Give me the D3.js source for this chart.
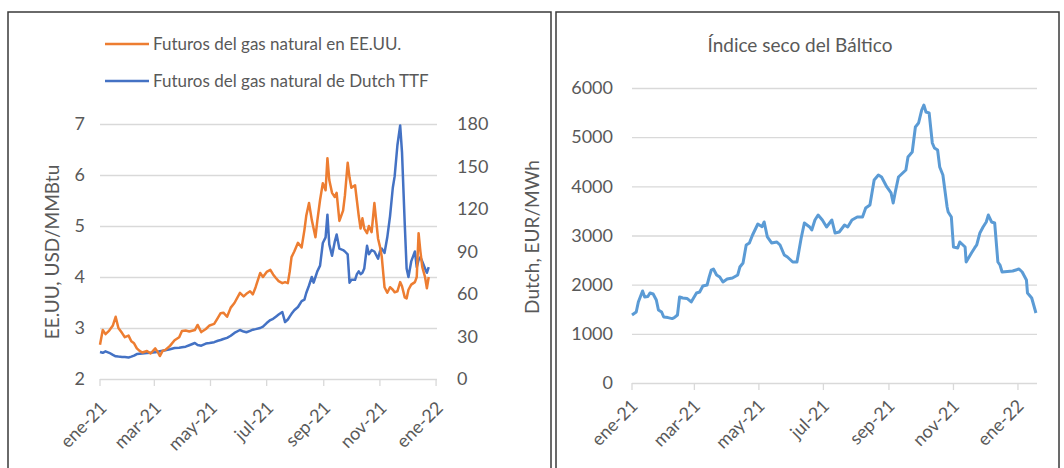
<!DOCTYPE html>
<html>
<head>
<meta charset="utf-8">
<script src="https://cdn.jsdelivr.net/npm/d3@7"></script>
<style>
  body { margin: 0; background: #fff; }
  svg { font-family: Lato, "Open Sans", sans-serif; }
  .grid line { stroke: #d9d9d9; stroke-width: 1.3; }
  .grid path { display: none; }
  .lbl { fill: #595959; font-size: 18px; }
</style>
</head>
<body>
<svg id="chart" width="1064" height="468"></svg>
<script>
// --- gas futures (left panel) ---
var gasDates = ["2021-01-01","2021-01-04","2021-01-07","2021-01-11","2021-01-15","2021-01-18","2021-01-21","2021-01-25","2021-01-28","2021-02-01",
  "2021-02-04","2021-02-07","2021-02-10","2021-02-13","2021-02-16","2021-02-21","2021-02-25","2021-03-02","2021-03-05","2021-03-07",
  "2021-03-10","2021-03-13","2021-03-18","2021-03-23","2021-03-28","2021-03-31","2021-04-04","2021-04-08","2021-04-14","2021-04-17",
  "2021-04-21","2021-04-26","2021-04-30","2021-05-05","2021-05-09","2021-05-12","2021-05-15","2021-05-19","2021-05-23","2021-05-27",
  "2021-06-02","2021-06-06","2021-06-09","2021-06-13","2021-06-16","2021-06-19","2021-06-24","2021-06-27","2021-07-01","2021-07-05",
  "2021-07-08","2021-07-11","2021-07-14","2021-07-18","2021-07-21","2021-07-24","2021-07-26","2021-07-28","2021-07-31","2021-08-04",
  "2021-08-08","2021-08-11","2021-08-13","2021-08-16","2021-08-19","2021-08-21","2021-08-23","2021-08-25","2021-08-28","2021-08-31",
  "2021-09-03","2021-09-05","2021-09-07","2021-09-10","2021-09-13","2021-09-15","2021-09-18","2021-09-22","2021-09-24","2021-09-27",
  "2021-09-29","2021-10-01","2021-10-05","2021-10-07","2021-10-09","2021-10-11","2021-10-13","2021-10-15","2021-10-18","2021-10-20",
  "2021-10-23","2021-10-26","2021-10-30","2021-11-01","2021-11-03","2021-11-06","2021-11-09","2021-11-12","2021-11-15","2021-11-17",
  "2021-11-20","2021-11-23","2021-11-25","2021-11-28","2021-11-30","2021-12-02","2021-12-05","2021-12-09","2021-12-11","2021-12-13",
  "2021-12-15","2021-12-17","2021-12-20","2021-12-22","2021-12-24"];

var usGas = [2.67,2.96,2.88,2.95,3.05,3.22,3.0,2.9,2.82,2.85,
  2.74,2.7,2.6,2.55,2.52,2.55,2.5,2.6,2.52,2.45,
  2.55,2.57,2.65,2.76,2.82,2.94,2.95,2.93,2.96,3.06,
  2.92,2.98,3.05,3.08,3.2,3.29,3.3,3.22,3.4,3.49,
  3.69,3.62,3.67,3.72,3.66,3.8,4.08,4.0,4.1,4.14,
  4.05,3.98,3.92,3.88,3.9,3.88,4.1,4.39,4.5,4.67,
  4.58,4.92,5.2,5.45,5.12,4.95,4.78,5.1,5.51,5.84,
  5.7,6.33,5.9,5.65,5.57,5.65,5.1,5.3,5.6,6.24,
  5.95,5.75,5.8,5.5,5.2,4.95,5.15,4.95,4.86,5.0,
  4.88,5.45,4.75,4.6,4.4,3.8,3.69,3.8,3.75,3.7,
  3.72,3.9,3.82,3.6,3.58,3.75,3.85,3.9,4.0,4.86,
  4.5,4.2,4.0,3.78,4.0];

var ttfGas = [19,18.5,19.5,18.5,17,16,15.8,15.6,15.5,15.2,
  15.8,16.5,17.6,17.8,18,18.3,18.6,18.8,19.2,19.6,
  20,20.3,21,21.9,22.1,22.4,22.8,23.8,25.4,24,
  23.5,25,25.4,26,27,27.5,28.2,29,30.5,32.5,
  34.6,33.5,33,34,34.8,35.2,36,37,39.5,41.6,
  42.5,44,45.5,47.3,40.2,42,44,46,48.5,50.8,
  55,56,60.7,66,72,68,72,76,80,96,
  100,116,95,87,97,102,92,91,90,88,
  68,70,70,74,76,74,75,78,94,88,
  91,90,85,90,92,89,100,115,135,143,
  165,179,160,109,78,72,83,90,79,84,
  86,83,78,75,79];

// --- Baltic Dry Index (right panel) ---
var bdiDates = ["2021-01-01","2021-01-05","2021-01-07","2021-01-11","2021-01-13","2021-01-16","2021-01-18","2021-01-21","2021-01-24","2021-01-26",
  "2021-01-29","2021-01-31","2021-02-04","2021-02-08","2021-02-10","2021-02-13","2021-02-15","2021-02-18","2021-02-22","2021-02-26",
  "2021-03-03","2021-03-06","2021-03-09","2021-03-13","2021-03-15","2021-03-17","2021-03-19","2021-03-22","2021-03-25","2021-03-28",
  "2021-04-01","2021-04-06","2021-04-11","2021-04-13","2021-04-16","2021-04-19","2021-04-22","2021-04-25","2021-04-30","2021-05-04",
  "2021-05-06","2021-05-09","2021-05-13","2021-05-18","2021-05-21","2021-05-25","2021-05-28","2021-06-02","2021-06-06","2021-06-08",
  "2021-06-10","2021-06-13","2021-06-18","2021-06-20","2021-06-23","2021-06-26","2021-06-30","2021-07-04","2021-07-09","2021-07-12",
  "2021-07-16","2021-07-21","2021-07-24","2021-07-28","2021-08-02","2021-08-07","2021-08-10","2021-08-14","2021-08-18","2021-08-22",
  "2021-08-25","2021-08-30","2021-09-03","2021-09-05","2021-09-07","2021-09-10","2021-09-14","2021-09-17","2021-09-19","2021-09-23",
  "2021-09-26","2021-09-29","2021-10-02","2021-10-04","2021-10-06","2021-10-09","2021-10-12","2021-10-14","2021-10-17","2021-10-19",
  "2021-10-22","2021-10-26","2021-10-27","2021-10-30","2021-11-01","2021-11-05","2021-11-07","2021-11-12","2021-11-13","2021-11-18",
  "2021-11-21","2021-11-23","2021-11-26","2021-11-29","2021-12-02","2021-12-04","2021-12-07","2021-12-10","2021-12-13","2021-12-15",
  "2021-12-17","2021-12-27","2022-01-02","2022-01-05","2022-01-09","2022-01-10","2022-01-14","2022-01-18"];

var bdiValues = [1383,1444,1648,1871,1750,1760,1830,1810,1688,1485,
  1444,1342,1330,1310,1330,1383,1750,1729,1720,1648,
  1830,1851,1973,1993,2156,2298,2319,2197,2156,2054,
  2115,2136,2197,2359,2441,2807,2848,3010,3234,3180,
  3275,2970,2848,2868,2807,2604,2563,2461,2461,2705,
  2949,3254,3173,3112,3315,3417,3315,3173,3315,3051,
  3071,3214,3173,3315,3376,3376,3559,3620,4129,4231,
  4190,3987,3865,3661,3885,4190,4271,4332,4597,4699,
  5207,5288,5553,5654,5512,5492,4882,4780,4739,4393,
  4231,3580,3478,3376,2766,2746,2868,2766,2461,2644,
  2746,2807,3051,3173,3275,3417,3275,3254,2461,2400,
  2258,2278,2319,2258,2095,1831,1729,1424];

var monthTicks = ["2021-01-01","2021-03-01","2021-05-01","2021-07-01","2021-09-01","2021-11-01","2022-01-01"];
var monthLabels = ["ene-21","mar-21","may-21","jul-21","sep-21","nov-21","ene-22"];
var usTicks = [2,3,4,5,6,7];
var ttfTicks = [0,30,60,90,120,150,180];
var bdiTicks = [0,1000,2000,3000,4000,5000,6000];

var parse = d3.timeParse("%Y-%m-%d");
var tickDates = monthTicks.map(parse);
var svg = d3.select("#chart");

// panel frames
svg.append("rect").attr("x", 8).attr("y", 12).attr("width", 543).attr("height", 470)
  .attr("fill", "none").attr("stroke", "#3a3a3a").attr("stroke-width", 1.5);
svg.append("rect").attr("x", 556).attr("y", 12).attr("width", 503).attr("height", 470)
  .attr("fill", "none").attr("stroke", "#3a3a3a").attr("stroke-width", 1.5);

function monthAxis(g, x, y0, dx, dy) {
  var ax = g.append("g").attr("transform", "translate(0," + y0 + ")");
  ax.selectAll("line").data(tickDates).enter().append("line")
    .attr("x1", function(d) { return x(d); }).attr("x2", function(d) { return x(d); })
    .attr("y1", 0).attr("y2", 7).attr("stroke", "#d9d9d9").attr("stroke-width", 1.3);
  ax.selectAll("text").data(tickDates).enter().append("text")
    .attr("class", "lbl").attr("text-anchor", "end")
    .attr("transform", function(d) { return "translate(" + (x(d) + dx) + "," + dy + ") rotate(-45)"; })
    .text(function(d, i) { return monthLabels[i]; });
}

/**********************
 Left panel: gas futures
**********************/
var x1 = d3.scaleTime().domain([parse("2021-01-01"), parse("2022-01-02")]).range([100, 437]);
var yL = d3.scaleLinear().domain([2, 7]).range([379, 124]);
var yR = d3.scaleLinear().domain([0, 180]).range([379, 124]);
var left = svg.append("g");

left.append("g").attr("class", "grid").attr("transform", "translate(100,0)")
  .call(d3.axisLeft(yL).tickValues(usTicks).tickSize(-337).tickFormat(""));

usTicks.forEach(function(t) {
  left.append("text").attr("class", "lbl").attr("x", 85).attr("y", yL(t)).attr("dy", "0.35em")
    .attr("text-anchor", "end").text(t);
});
ttfTicks.forEach(function(t) {
  left.append("text").attr("class", "lbl").attr("x", 457).attr("y", yR(t)).attr("dy", "0.35em")
    .text(t);
});
monthAxis(left, x1, 379, 8, 30);

left.append("text").attr("class", "lbl").style("font-size", "19px")
  .attr("transform", "translate(59,252) rotate(-90)").attr("text-anchor", "middle")
  .text("EE.UU, USD/MMBtu");
left.append("text").attr("class", "lbl").style("font-size", "19px")
  .attr("transform", "translate(539,237) rotate(-90)").attr("text-anchor", "middle")
  .text("Dutch, EUR/MWh");

var gasRows = gasDates.map(function(d, i) { return { date: parse(d), us: usGas[i], ttf: ttfGas[i] }; });

left.append("path").datum(gasRows)
  .attr("fill", "none").attr("stroke", "#4472c4").attr("stroke-width", 2.5).attr("stroke-linejoin", "round")
  .attr("d", d3.line().x(function(d) { return x1(d.date); }).y(function(d) { return yR(d.ttf); }));
left.append("path").datum(gasRows)
  .attr("fill", "none").attr("stroke", "#ed7d31").attr("stroke-width", 2.5).attr("stroke-linejoin", "round")
  .attr("d", d3.line().x(function(d) { return x1(d.date); }).y(function(d) { return yL(d.us); }));

// legend
var legendItems = [
  { name: "Futuros del gas natural en EE.UU.", color: "#ed7d31", y: 44 },
  { name: "Futuros del gas natural de Dutch TTF", color: "#4472c4", y: 81 }
];
legendItems.forEach(function(it) {
  left.append("line").attr("x1", 105).attr("x2", 149).attr("y1", it.y).attr("y2", it.y)
    .attr("stroke", it.color).attr("stroke-width", 2.5);
  left.append("text").attr("class", "lbl").style("font-size", "17px")
    .attr("x", 153).attr("y", it.y).attr("dy", "0.35em")
    .text(it.name);
});

/**********************
 Right panel: Baltic Dry Index
**********************/
var x2 = d3.scaleTime().domain([parse("2021-01-01"), parse("2022-01-19")]).range([632, 1037]);
var y2 = d3.scaleLinear().domain([0, 6000]).range([383, 88]);
var right = svg.append("g");

right.append("g").attr("class", "grid").attr("transform", "translate(632,0)")
  .call(d3.axisLeft(y2).tickValues(bdiTicks).tickSize(-405).tickFormat(""));
bdiTicks.forEach(function(t) {
  right.append("text").attr("class", "lbl").attr("x", 613).attr("y", y2(t)).attr("dy", "0.35em")
    .attr("text-anchor", "end").text(t);
});
monthAxis(right, x2, 383, 7, 24);

right.append("text").attr("class", "lbl").attr("x", 800).attr("y", 52)
  .attr("text-anchor", "middle").style("font-size", "19px").text("Índice seco del Báltico");

var bdiRows = bdiDates.map(function(d, i) { return { date: parse(d), v: bdiValues[i] }; });
right.append("path").datum(bdiRows)
  .attr("fill", "none").attr("stroke", "#5b9bd5").attr("stroke-width", 3).attr("stroke-linejoin", "round")
  .attr("d", d3.line().x(function(d) { return x2(d.date); }).y(function(d) { return y2(d.v); }));
</script>
</body>
</html>
